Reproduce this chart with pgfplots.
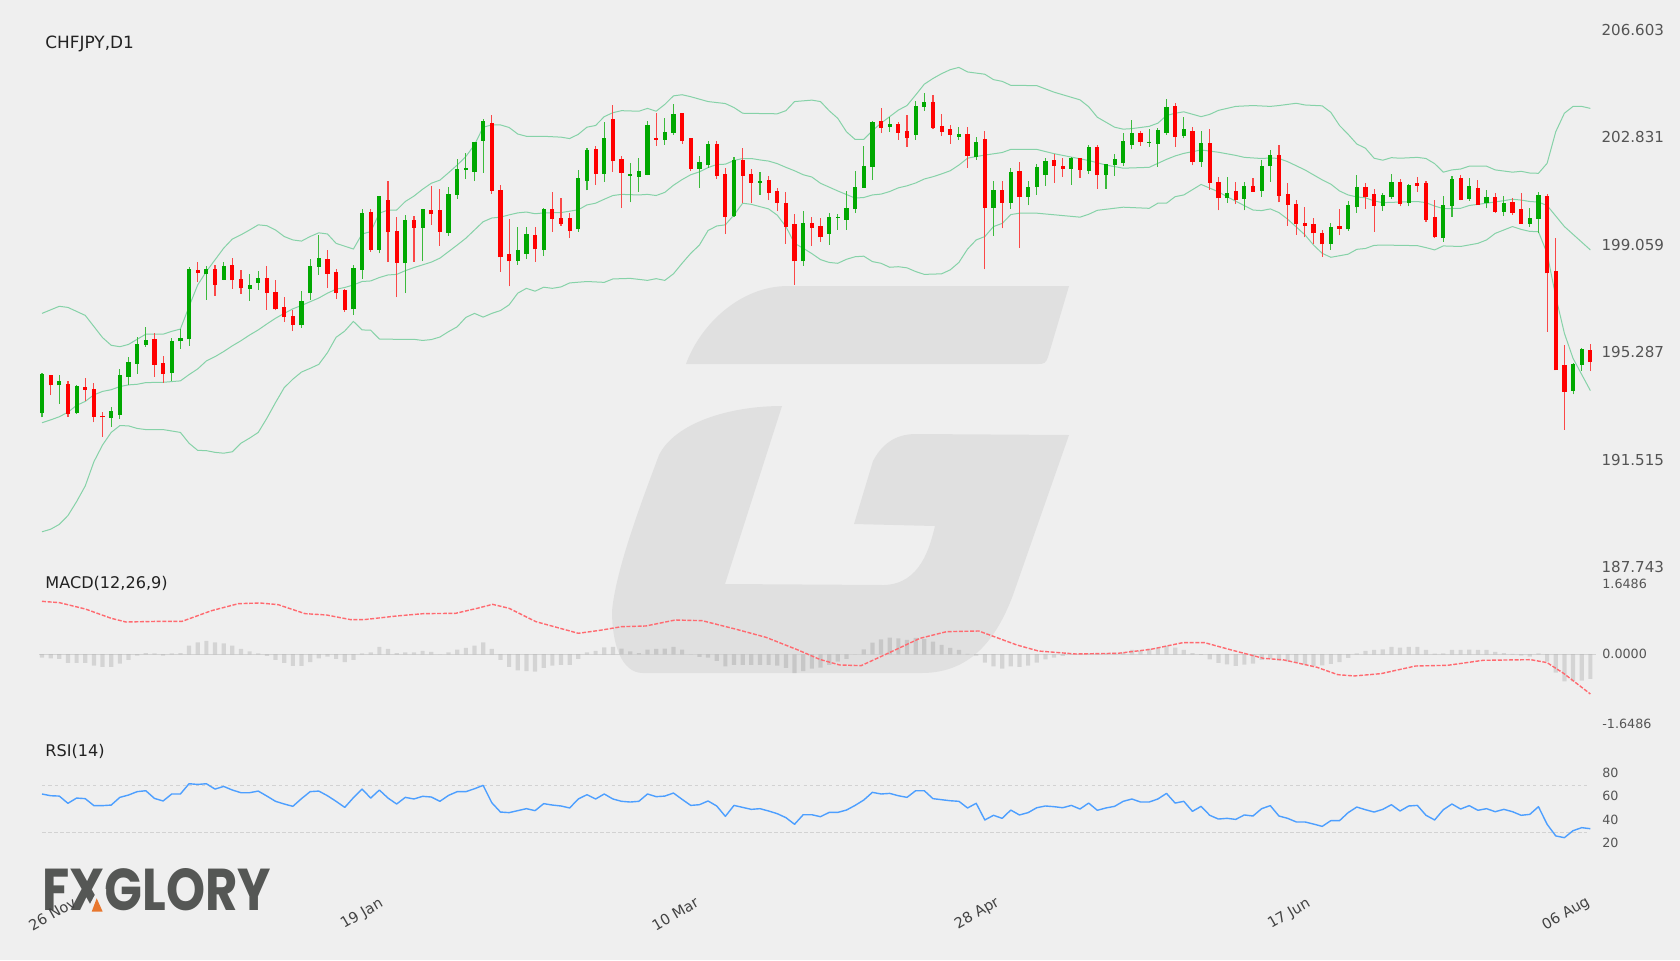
\documentclass[border=0pt]{standalone}
\usepackage{fontspec}
\setmainfont{DejaVu Sans}
\newfontfamily\logofont{Poppins}
\usepackage{pgfplots}
\usepackage{pgfplotstable}
\pgfplotsset{compat=1.18}
\definecolor{bgc}{HTML}{EFEFEF}
\definecolor{wm}{HTML}{E0E0E0}
\definecolor{upc}{HTML}{00A800}
\definecolor{dnc}{HTML}{FF0000}
\definecolor{band}{HTML}{86D2A8}
\definecolor{sig}{HTML}{FF6A70}
\definecolor{rsic}{HTML}{4D9FFF}
\definecolor{guide}{HTML}{D2D2D2}
\definecolor{tickc}{HTML}{555555}
\definecolor{titlec}{HTML}{222222}
\definecolor{logoc}{HTML}{555755}
\definecolor{logoo}{HTML}{E8772E}
% x top bot hi lo
\pgfplotstableread{
x top bot hi lo
0 194.52 193.14 194.57 193.00
2 194.26 194.12 194.48 193.47
4 194.09 193.14 194.12 193.11
8 193.21 192.98 193.36 192.67
9 194.48 193.09 194.69 192.94
10 194.96 194.42 195.11 194.12
11 195.58 194.89 195.81 194.53
12 195.72 195.55 196.17 195.48
15 195.68 194.55 195.78 194.28
16 195.80 195.67 196.11 195.41
17 198.21 195.74 198.27 195.51
19 198.20 198.05 198.33 197.13
21 198.30 197.84 198.46 197.82
24 197.65 197.50 198.02 197.10
25 197.88 197.72 198.14 197.47
30 197.09 196.23 197.44 196.14
31 198.33 197.36 198.56 197.12
32 198.59 198.28 199.41 198.00
36 198.23 196.79 198.35 196.59
37 200.18 198.18 200.32 197.86
39 200.77 198.88 200.77 198.76
42 199.93 198.42 200.11 197.36
44 200.31 199.65 200.33 198.49
47 200.83 199.48 201.09 199.37
48 201.73 200.81 202.07 200.67
49 201.76 201.68 202.28 201.37
50 202.66 201.62 202.68 201.30
51 203.41 202.72 203.48 201.59
55 198.87 198.49 199.69 198.35
56 199.43 198.74 199.69 198.56
58 200.32 198.87 200.34 198.67
62 201.40 199.60 201.69 199.51
63 202.38 201.31 202.46 200.97
65 202.80 201.55 203.36 201.28
68 201.54 201.49 201.93 200.55
69 201.65 201.45 202.10 200.92
70 203.25 201.52 203.40 201.50
72 203.02 202.74 203.50 202.57
73 203.67 203.00 204.02 202.92
76 201.96 201.73 202.18 201.06
77 202.60 201.86 202.69 201.76
80 202.04 200.07 202.16 200.05
83 201.30 201.24 201.62 200.81
88 199.81 198.48 200.25 198.33
91 200.04 199.44 200.18 199.06
92 200.05 200.00 200.15 199.58
93 200.35 199.94 200.95 199.59
94 201.09 200.31 201.65 200.17
95 201.82 201.07 202.52 201.07
96 203.38 201.80 203.41 201.34
98 203.30 203.20 203.55 203.03
101 203.95 202.92 204.11 202.74
102 204.09 203.90 204.40 203.76
106 202.94 202.85 203.20 202.75
108 202.68 202.14 202.85 202.04
110 200.97 200.36 201.30 199.38
112 201.62 200.53 201.76 200.33
114 201.09 200.75 201.30 200.44
115 201.78 201.09 201.88 200.81
116 202.00 201.51 202.10 201.14
119 202.10 201.73 202.14 201.17
121 202.50 201.65 202.57 201.54
123 201.88 201.51 201.90 201.03
124 202.06 201.85 202.26 201.49
125 202.71 201.93 202.98 201.82
126 202.99 202.58 203.44 202.41
128 202.68 202.65 203.13 202.50
129 203.10 202.61 203.15 201.80
130 203.89 203.00 204.18 202.92
132 203.12 202.88 203.55 202.80
134 202.64 201.97 203.06 201.80
137 200.88 200.69 201.44 200.52
139 201.14 200.67 201.26 200.27
141 201.82 200.95 202.05 200.75
142 202.20 201.82 202.38 201.27
149 199.67 199.09 199.82 198.88
151 200.44 199.60 200.60 199.55
152 201.08 200.37 201.51 200.19
155 200.80 200.42 200.88 200.25
156 201.28 200.73 201.56 200.68
158 201.16 200.53 201.19 200.41
162 200.46 199.30 200.78 199.17
163 201.38 200.42 201.48 200.05
165 201.11 200.66 201.40 200.60
167 200.74 200.52 200.97 200.34
169 200.54 200.22 200.76 200.07
172 199.99 199.79 200.35 199.69
173 200.80 199.97 200.92 199.46
177 194.87 193.93 194.90 193.81
178 195.40 194.83 195.44 194.63
}\upcandles
\pgfplotstableread{
x top bot hi lo
1 194.48 194.12 194.50 193.78
3 194.17 193.12 194.26 193.02
5 194.07 193.97 194.38 193.59
6 194.00 193.02 194.21 192.82
7 193.04 193.00 193.19 192.32
13 195.74 194.85 195.95 194.43
14 194.90 194.52 195.16 194.21
18 198.19 198.08 198.46 197.75
20 198.21 197.66 198.35 197.27
22 198.35 197.81 198.60 197.51
23 197.85 197.53 198.16 197.34
26 197.88 197.36 198.32 196.78
27 197.39 196.79 197.82 196.76
28 196.86 196.51 197.22 196.34
29 196.56 196.26 196.77 196.03
33 198.55 198.04 198.88 197.54
34 198.11 197.38 198.21 197.15
35 197.46 196.77 197.50 196.70
38 200.20 198.89 200.32 198.82
40 200.63 199.50 201.30 198.45
41 199.55 198.43 200.03 197.22
43 199.93 199.65 200.07 198.47
45 200.27 200.13 201.11 199.77
46 200.27 199.51 201.01 199.03
52 203.33 200.95 203.62 200.86
53 201.00 198.62 201.16 198.11
54 198.75 198.48 199.97 197.60
57 199.39 198.90 199.69 198.47
59 200.32 199.98 200.92 199.51
60 199.99 199.79 200.69 199.73
61 199.99 199.55 200.18 199.29
64 202.41 201.56 202.54 201.16
66 203.48 201.99 203.98 201.62
67 202.06 201.59 202.18 200.35
71 202.82 202.75 203.70 202.54
74 203.70 202.71 203.70 202.60
75 202.80 201.72 202.80 201.65
78 202.60 201.48 202.69 201.38
79 201.54 200.05 201.76 199.43
81 202.04 201.49 202.46 200.52
82 201.54 201.23 201.73 200.52
84 201.34 200.89 201.48 200.63
85 200.94 200.53 201.06 200.24
86 200.52 199.69 200.92 199.10
87 199.79 198.48 200.15 197.66
89 199.81 199.66 200.05 199.02
90 199.71 199.32 200.01 199.17
97 203.42 203.16 203.87 202.98
99 203.30 203.00 203.37 202.75
100 203.06 202.81 203.62 202.50
103 204.06 203.16 204.32 203.12
104 203.22 203.02 203.64 202.88
105 203.13 202.92 203.25 202.61
107 202.96 202.19 203.20 201.77
109 202.76 200.36 203.06 198.20
111 200.97 200.54 201.30 199.64
113 201.64 200.75 201.98 198.96
117 202.04 201.82 202.25 201.23
118 201.82 201.73 202.10 201.45
120 202.10 201.68 202.10 201.42
122 202.50 201.51 202.55 201.03
127 203.00 202.67 203.05 202.54
131 203.95 202.86 204.04 202.50
133 203.06 201.97 203.20 201.85
135 202.64 201.23 203.12 200.99
136 201.28 200.69 201.44 200.27
138 200.94 200.65 201.28 200.49
140 201.14 200.93 201.42 200.92
143 202.20 200.78 202.57 200.55
144 200.86 200.47 201.23 199.73
145 200.48 199.79 200.62 199.41
146 199.82 199.73 200.39 199.32
147 199.79 199.46 200.01 199.10
148 199.48 199.07 199.59 198.64
150 199.73 199.63 200.32 199.39
153 201.08 200.75 201.22 200.32
154 200.86 200.42 201.01 199.51
157 201.28 200.49 201.37 200.41
159 201.23 201.14 201.45 200.93
160 201.23 199.94 201.30 199.87
161 200.04 199.32 200.63 199.29
164 201.42 200.65 201.52 200.62
166 201.06 200.47 201.34 200.46
168 200.74 200.22 200.88 200.18
170 200.55 200.18 200.72 200.11
171 200.30 199.79 200.89 199.79
174 200.76 198.06 200.83 196.01
175 198.13 194.65 199.29 194.65
176 194.84 193.90 195.54 192.57
179 195.38 194.94 195.58 194.62
}\downcandles
\pgfplotstableread{
x y
0 196.65
2 196.90
3 196.86
5 196.58
6 196.19
7 195.80
8 195.53
9 195.48
10 195.56
12 195.92
14 195.92
15 196.02
16 196.10
17 196.89
18 197.65
19 198.12
20 198.53
21 198.94
22 199.26
23 199.41
24 199.58
25 199.76
26 199.73
27 199.58
28 199.35
29 199.23
30 199.19
31 199.35
32 199.48
33 199.44
34 199.11
35 199.01
36 198.91
37 199.44
38 199.52
39 200.17
40 200.28
41 200.28
42 200.58
43 200.77
44 201.01
45 201.22
46 201.33
47 201.59
48 201.86
49 202.16
50 202.57
51 203.19
52 203.27
53 203.27
54 203.18
55 202.95
56 202.87
58 202.87
60 202.84
61 202.79
62 202.94
63 203.19
64 203.25
65 203.56
66 203.70
67 203.77
69 203.75
70 203.85
71 203.75
72 203.99
73 204.29
74 204.33
75 204.26
77 204.09
79 204.02
80 203.88
81 203.68
85 203.66
86 203.77
87 204.09
89 204.14
90 204.09
91 203.77
92 203.50
93 203.03
94 202.76
95 202.76
96 203.07
97 203.33
98 203.56
99 203.79
100 203.95
101 204.32
102 204.70
103 204.90
104 205.07
105 205.21
106 205.29
107 205.13
109 205.05
110 204.86
111 204.80
112 204.66
115 204.65
117 204.42
119 204.24
120 204.15
121 203.91
122 203.54
124 203.19
125 203.12
126 203.14
128 203.22
129 203.33
130 203.60
131 203.68
132 203.73
134 203.56
135 203.64
136 203.78
138 203.92
140 203.95
142 203.92
143 203.95
145 204.03
146 203.97
148 203.94
149 203.71
150 203.25
151 202.94
152 202.60
153 202.45
154 202.10
155 202.03
156 202.12
157 202.10
159 202.13
160 202.09
161 201.91
162 201.61
163 201.69
164 201.72
165 201.82
167 201.82
168 201.69
170 201.61
171 201.64
172 201.58
173 201.57
174 201.92
175 203.03
176 203.68
177 203.92
178 203.92
179 203.85
}\upperband
\pgfplotstableread{
x y
0 192.81
1 192.91
2 193.02
3 193.18
4 193.42
5 193.56
6 193.79
7 193.91
8 193.97
9 194.08
10 194.14
11 194.16
12 194.22
14 194.23
16 194.28
17 194.50
18 194.70
19 194.98
20 195.13
21 195.31
22 195.51
23 195.69
24 195.89
25 196.07
26 196.28
27 196.48
28 196.65
29 196.81
30 196.93
31 197.06
32 197.19
33 197.36
34 197.50
35 197.56
36 197.65
37 197.77
38 197.79
39 197.91
40 198.00
41 198.02
42 198.15
43 198.26
45 198.45
46 198.59
47 198.82
48 199.05
49 199.29
50 199.58
51 199.87
52 200.00
53 200.03
54 200.11
55 200.18
56 200.21
57 200.15
58 200.18
60 200.19
62 200.29
63 200.46
64 200.52
65 200.66
66 200.79
67 200.83
69 200.81
70 200.83
71 200.79
72 200.90
73 201.15
74 201.35
75 201.52
76 201.62
77 201.77
78 201.88
79 201.89
80 202.02
81 202.09
82 202.09
83 202.04
84 202.00
85 201.91
86 201.78
87 201.66
88 201.52
89 201.44
90 201.22
92 200.95
94 200.70
95 200.72
96 200.81
97 200.84
98 200.93
99 201.06
100 201.13
101 201.23
102 201.37
103 201.45
104 201.55
105 201.66
106 201.86
107 202.10
108 202.16
109 202.21
111 202.30
112 202.41
115 202.41
117 202.26
119 202.14
121 202.02
123 201.86
125 201.75
128 201.78
129 201.92
130 202.06
131 202.18
132 202.27
133 202.33
134 202.39
136 202.31
138 202.20
139 202.13
141 202.09
142 202.11
143 202.09
144 201.98
146 201.69
148 201.34
149 201.19
150 200.95
151 200.81
152 200.74
153 200.71
154 200.60
155 200.54
157 200.56
159 200.58
160 200.54
161 200.42
162 200.33
164 200.34
165 200.44
167 200.52
169 200.61
170 200.66
171 200.63
172 200.58
173 200.56
174 200.44
175 200.07
176 199.70
179 198.88
}\midband
\pgfplotstableread{
x y
0 188.98
1 189.07
2 189.24
3 189.55
4 190.04
5 190.59
6 191.44
7 192.03
8 192.47
9 192.71
10 192.70
11 192.61
12 192.57
14 192.57
15 192.52
16 192.47
17 192.09
18 191.84
19 191.83
20 191.77
21 191.74
22 191.79
23 192.09
24 192.27
25 192.47
26 192.97
27 193.52
28 194.04
29 194.34
30 194.59
31 194.72
32 194.86
33 195.27
34 195.81
35 196.03
36 196.37
37 196.07
38 196.06
39 195.75
41 195.74
43 195.74
44 195.70
45 195.73
46 195.82
47 196.01
48 196.18
49 196.51
50 196.65
51 196.52
52 196.65
53 196.75
54 196.95
55 197.36
56 197.53
57 197.43
58 197.57
59 197.53
60 197.58
61 197.72
63 197.77
65 197.74
66 197.86
68 197.88
70 197.81
71 197.87
72 197.81
73 198.04
74 198.41
75 198.76
76 199.05
77 199.56
78 199.72
79 199.76
80 200.11
81 200.52
82 200.48
83 200.40
84 200.32
85 200.10
86 199.70
87 199.11
88 198.94
89 198.75
90 198.54
91 198.44
92 198.41
93 198.55
94 198.64
95 198.66
96 198.47
97 198.41
98 198.27
99 198.29
100 198.25
101 198.12
102 198.02
104 198.04
105 198.18
106 198.44
107 198.91
108 199.23
109 199.35
110 199.70
111 199.81
112 200.12
113 200.17
115 200.17
120 200.03
121 200.13
122 200.27
125 200.38
128 200.34
129 200.52
130 200.52
131 200.75
132 200.81
134 201.18
136 200.92
137 200.75
138 200.59
140 200.28
141 200.26
142 200.32
143 200.19
144 199.96
146 199.41
147 199.05
148 198.76
149 198.62
151 198.73
152 198.90
153 198.93
154 199.04
155 199.05
159 199.03
160 198.96
161 198.88
162 199.02
164 199.00
166 199.11
167 199.23
168 199.46
170 199.70
171 199.60
172 199.53
173 199.52
174 198.76
175 197.24
176 195.95
177 195.07
179 193.94
}\lowerband
\pgfplotstableread{
x y
0 1.248
2 1.217
5 1.068
8 0.848
9.7 0.761
13.7 0.777
16.2 0.777
19.6 1.028
22.7 1.193
25.2 1.209
27.3 1.170
30.4 0.958
32.9 0.926
35.7 0.816
37.2 0.816
41 0.903
44.1 0.958
47.8 0.965
50.3 1.083
52.1 1.177
54 1.083
57.1 0.769
62 0.495
64.5 0.565
67 0.651
69.8 0.667
73.2 0.808
76.3 0.793
80 0.604
83.7 0.400
87.4 0.102
89.9 -0.118
92.2 -0.251
94.7 -0.267
97.8 0.024
101.5 0.377
104.6 0.534
108.3 0.549
112.7 0.220
115.2 0.078
119.5 0.008
124.4 0.024
128.2 0.118
131.9 0.275
134.4 0.275
137.5 0.102
141.2 -0.094
143.6 -0.133
147.4 -0.306
149.8 -0.479
151.7 -0.510
154.8 -0.455
158.8 -0.275
162.5 -0.259
166.6 -0.141
172.1 -0.126
174 -0.196
175.9 -0.447
179 -0.934
}\macdsignal
\pgfplotstableread{
x y
0 -0.078
1 -0.094
2 -0.110
3 -0.204
4 -0.204
5 -0.204
6 -0.267
7 -0.298
8 -0.298
9 -0.220
10 -0.133
11 -0.031
12 0.031
13 0.024
14 -0.031
15 0.024
16 0.031
17 0.204
18 0.283
19 0.314
20 0.283
21 0.259
22 0.204
23 0.126
24 0.071
25 0.024
26 -0.039
27 -0.133
28 -0.204
29 -0.275
30 -0.275
31 -0.181
32 -0.094
33 -0.055
34 -0.110
35 -0.181
36 -0.133
37 0.024
38 0.047
39 0.173
40 0.126
41 0.031
42 0.047
43 0.047
44 0.079
45 0.055
46 0
47 0.047
48 0.110
49 0.149
50 0.204
51 0.283
52 0.126
53 -0.133
54 -0.298
55 -0.377
56 -0.393
57 -0.408
58 -0.322
59 -0.267
60 -0.251
61 -0.251
62 -0.110
63 0.047
64 0.079
65 0.165
66 0.173
67 0.133
68 0.071
69 0.031
70 0.110
71 0.126
72 0.133
73 0.173
74 0.110
75 0
76 -0.063
77 -0.079
78 -0.157
79 -0.283
80 -0.251
81 -0.251
82 -0.251
83 -0.251
84 -0.251
85 -0.267
86 -0.322
87 -0.440
88 -0.393
89 -0.338
90 -0.314
91 -0.251
92 -0.173
93 -0.110
94 0
95 0.118
96 0.275
97 0.353
98 0.393
99 0.377
100 0.338
101 0.385
102 0.361
103 0.298
104 0.220
105 0.149
106 0.102
107 0.008
108 -0.031
109 -0.196
110 -0.283
111 -0.338
112 -0.283
113 -0.298
114 -0.267
115 -0.196
116 -0.118
117 -0.079
118 -0.039
119 -0.008
120 0.008
121 0.024
122 0.024
123 0.024
124 0.039
125 0.039
126 0.102
127 0.086
128 0.133
129 0.165
130 0.196
131 0.157
132 0.102
133 0.031
134 -0.016
135 -0.118
136 -0.204
137 -0.236
138 -0.275
139 -0.243
140 -0.220
141 -0.133
142 -0.102
143 -0.149
144 -0.173
145 -0.196
146 -0.243
147 -0.275
148 -0.259
149 -0.228
150 -0.181
151 -0.086
152 0.024
153 0.079
154 0.102
155 0.118
156 0.173
157 0.157
158 0.173
159 0.173
160 0.102
161 0.016
162 0.024
163 0.102
164 0.102
165 0.110
166 0.102
167 0.102
168 0.055
169 0.031
170 0.008
171 -0.031
172 -0.055
173 0.024
174 -0.173
175 -0.432
176 -0.636
177 -0.636
178 -0.620
179 -0.581
}\macdhist
\pgfplotstableread{
x y
0 62.9
1 61.4
2 61.1
3 54.9
4 59.4
5 58.9
6 52.9
7 52.9
8 53.4
9 60.0
10 62.0
11 64.9
12 65.7
13 59.1
14 56.9
15 62.9
16 62.9
17 71.7
18 71.1
19 71.7
20 67.1
21 69.4
22 66.3
23 64.0
24 64.0
25 65.4
26 61.1
27 56.6
28 54.3
29 52.3
30 58.9
31 64.9
32 65.4
33 61.4
34 56.6
35 51.4
36 59.7
37 67.1
38 59.4
39 66.3
40 59.4
41 54.3
42 60.0
43 58.6
44 60.9
45 60.3
46 56.6
47 61.7
48 64.9
49 64.9
50 67.4
51 70.3
52 55.4
53 47.4
54 46.9
55 48.6
56 50.3
57 48.6
58 54.6
59 53.4
60 52.6
61 50.9
62 58.6
63 62.3
64 58.6
65 62.9
66 58.6
67 56.6
68 56.0
69 56.6
70 62.9
71 60.6
72 61.1
73 63.7
74 58.3
75 53.1
76 53.7
77 56.9
78 52.6
79 43.7
80 53.1
81 51.4
82 49.7
83 50.3
84 48.3
85 46.0
86 42.6
87 36.9
88 45.1
89 45.1
90 43.4
91 47.1
92 47.1
93 49.1
94 53.1
95 57.7
96 64.3
97 62.9
98 63.4
99 61.4
100 60.0
101 65.7
102 65.7
103 58.9
104 58.0
105 57.1
106 56.6
107 50.9
108 54.9
109 40.6
110 44.6
111 42.0
112 49.1
113 44.9
114 46.9
115 51.1
116 52.6
117 52.0
118 51.1
119 53.1
120 50.0
121 55.1
122 48.9
123 50.9
124 52.3
125 56.6
126 58.6
127 56.0
128 56.0
129 58.6
130 63.4
131 55.1
132 56.6
133 48.0
134 52.3
135 44.6
136 41.4
137 42.0
138 41.1
139 44.9
140 44.0
141 50.3
142 52.9
143 44.0
144 42.0
145 38.9
146 38.9
147 37.1
148 35.1
149 40.0
150 40.0
151 46.9
152 51.7
153 49.4
154 47.4
155 49.7
156 53.7
157 48.3
158 52.6
159 53.1
160 44.6
161 40.6
162 49.4
163 54.3
164 50.0
165 52.9
166 48.9
167 50.3
168 47.7
169 49.7
170 47.7
171 44.6
172 45.4
173 52.0
174 36.9
175 26.9
176 25.4
177 31.4
178 34.0
179 33.1
}\rsitable
\pgfplotsset{
  panel/.style={
    scale only axis, width=783.32pt, anchor=south west,
    xmin=-1, xmax=180.116,
    axis line style={draw=none}, major tick length=0pt,
    clip=false,
    ytick pos=right, yticklabel pos=right,
    scaled y ticks=false,
    xtick=\empty,
    tick label style={inner sep=0pt},
  },
  band line/.style={band, line width=0.5pt, forget plot, line join=round},
  wick/.style 2 args={draw=none, forget plot,
    error bars/.cd, y dir=plus, y explicit, error mark=none,
    error bar style={draw=#1, line width=#2, line cap=butt}},
}
\begin{document}
\begin{tikzpicture}
\useasboundingbox (0,0) rectangle (840pt,-480pt);
\begin{scope}[x=0.5pt,y=-0.5pt]
\fill[bgc] (0,0) rectangle (1680,960);
% watermark
\fill[wm, rounded corners=0pt] (788,286) -- (1069,286) -- (1048,357) .. controls (1046,363) and (1044,364) .. (1038,364) -- (686,364) .. controls (700,325) and (740,286) .. (788,286) -- cycle;
\fill[wm] (782,406) -- (725,584) -- (884,585) .. controls (921,584) and (930,546) .. (935,526) -- (854,524) -- (873,461) .. controls (884,440) and (900,434) .. (916,434) -- (1069,435) -- (1013,595) .. controls (991,654) and (959,673) .. (921,673) -- (643,673) .. controls (621,673) and (612,643) .. (612,611) .. controls (616,568) and (643,498) .. (659,455) .. controls (675,423) and (729,406) .. (782,406) -- cycle;
% logo
\node[anchor=south west, inner sep=0pt, text=logoc] at (41.7,911.7) {\resizebox{114.5pt}{21pt}{\logofont\bfseries FXGLORY}};
\fill[bgc] (85.5,912.5) -- (106,912.5) -- (106,889) -- (98,889) -- cycle;
\fill[logoo] (91.7,911.7) -- (102.7,911.7) -- (96.7,898.3) -- cycle;
% titles
\node[anchor=west, inner sep=0pt, text=titlec] at (45,44) {\fontsize{8.45}{10}\selectfont CHFJPY,D1};
\node[anchor=west, inner sep=0pt, text=titlec] at (45,583) {\fontsize{8.05}{10}\selectfont MACD(12,26,9)};
\node[anchor=west, inner sep=0pt, text=titlec] at (45,751) {\fontsize{8.05}{10}\selectfont RSI(14)};
\end{scope}
% price panel
\begin{axis}[panel, at={(16.675pt,-283.5pt)}, height=268.5pt,
  ymin=187.743, ymax=206.603,
  ytick={187.743,191.515,195.287,199.059,202.831,206.603},
  yticklabel style={font=\fontsize{7.55}{9}\selectfont, text=tickc, anchor=west, xshift=0.6pt,
    /pgf/number format/fixed, /pgf/number format/fixed zerofill,
    /pgf/number format/precision=3, /pgf/number format/1000 sep={},
    /pgf/number format/assume math mode=true},
]
\addplot[band line] table[x=x,y=y] {\upperband};
\addplot[band line] table[x=x,y=y] {\midband};
\addplot[band line] table[x=x,y=y] {\lowerband};
\addplot[wick={upc!75!bgc}{0.55pt}] table[x=x,y=lo,y error plus expr=\thisrow{hi}-\thisrow{lo}] {\upcandles};
\addplot[wick={dnc!70!bgc}{0.55pt}] table[x=x,y=lo,y error plus expr=\thisrow{hi}-\thisrow{lo}] {\downcandles};
\addplot[wick={upc}{2.1pt}] table[x=x,y=bot,y error plus expr=\thisrow{top}-\thisrow{bot}] {\upcandles};
\addplot[wick={dnc}{2.1pt}] table[x=x,y=bot,y error plus expr=\thisrow{top}-\thisrow{bot}] {\downcandles};
\end{axis}
% MACD panel
\begin{axis}[panel, at={(16.675pt,-362.15pt)}, height=70pt,
  ymin=-1.6486, ymax=1.6486,
  ytick={-1.6486,0,1.6486},
  yticklabel style={font=\fontsize{6.35}{7.5}\selectfont, text=tickc, anchor=west, xshift=1pt,
    /pgf/number format/fixed, /pgf/number format/fixed zerofill,
    /pgf/number format/precision=4,
    /pgf/number format/assume math mode=true},
]
\addplot[guide, line width=0.5pt, forget plot] coordinates {(-0.3,0) (179.6,0)};
\addplot[ybar, bar width=2.1pt, bar shift=0pt, draw=none, fill=black, fill opacity=0.11, forget plot] table[x=x,y=y] {\macdhist};
\addplot[sig, line width=0.7pt, dash pattern=on 2pt off 0.8pt, forget plot, line join=round] table[x=x,y=y] {\macdsignal};
\end{axis}
% RSI panel
\begin{axis}[panel, at={(16.675pt,-425pt)}, height=45pt,
  ymin=14.81, ymax=92.06,
  ytick={20,40,60,80},
  yticklabel style={font=\fontsize{6.35}{7.5}\selectfont, text=tickc, anchor=west, xshift=1pt, yshift=0.6pt,
    /pgf/number format/assume math mode=true},
  xtick={1.2,37,73.2,108.1,144.2,176.2},
  xticklabels={26 Nov,19 Jan,10 Mar,28 Apr,17 Jun,06 Aug},
  xticklabel style={font=\fontsize{7.3}{8.5}\selectfont, text=titlec!85!white, rotate=30, anchor=center, xshift=-16pt, yshift=-27.7pt},
]
\addplot[guide, line width=0.5pt, dash pattern=on 1.6pt off 1.6pt, forget plot] coordinates {(0,70) (178.6,70)};
\addplot[guide, line width=0.5pt, dash pattern=on 2pt off 1pt, forget plot] coordinates {(0,30) (178.6,30)};
\addplot[rsic, line width=0.7pt, forget plot, line join=round] table[x=x,y=y] {\rsitable};
\end{axis}
\end{tikzpicture}
\end{document}
